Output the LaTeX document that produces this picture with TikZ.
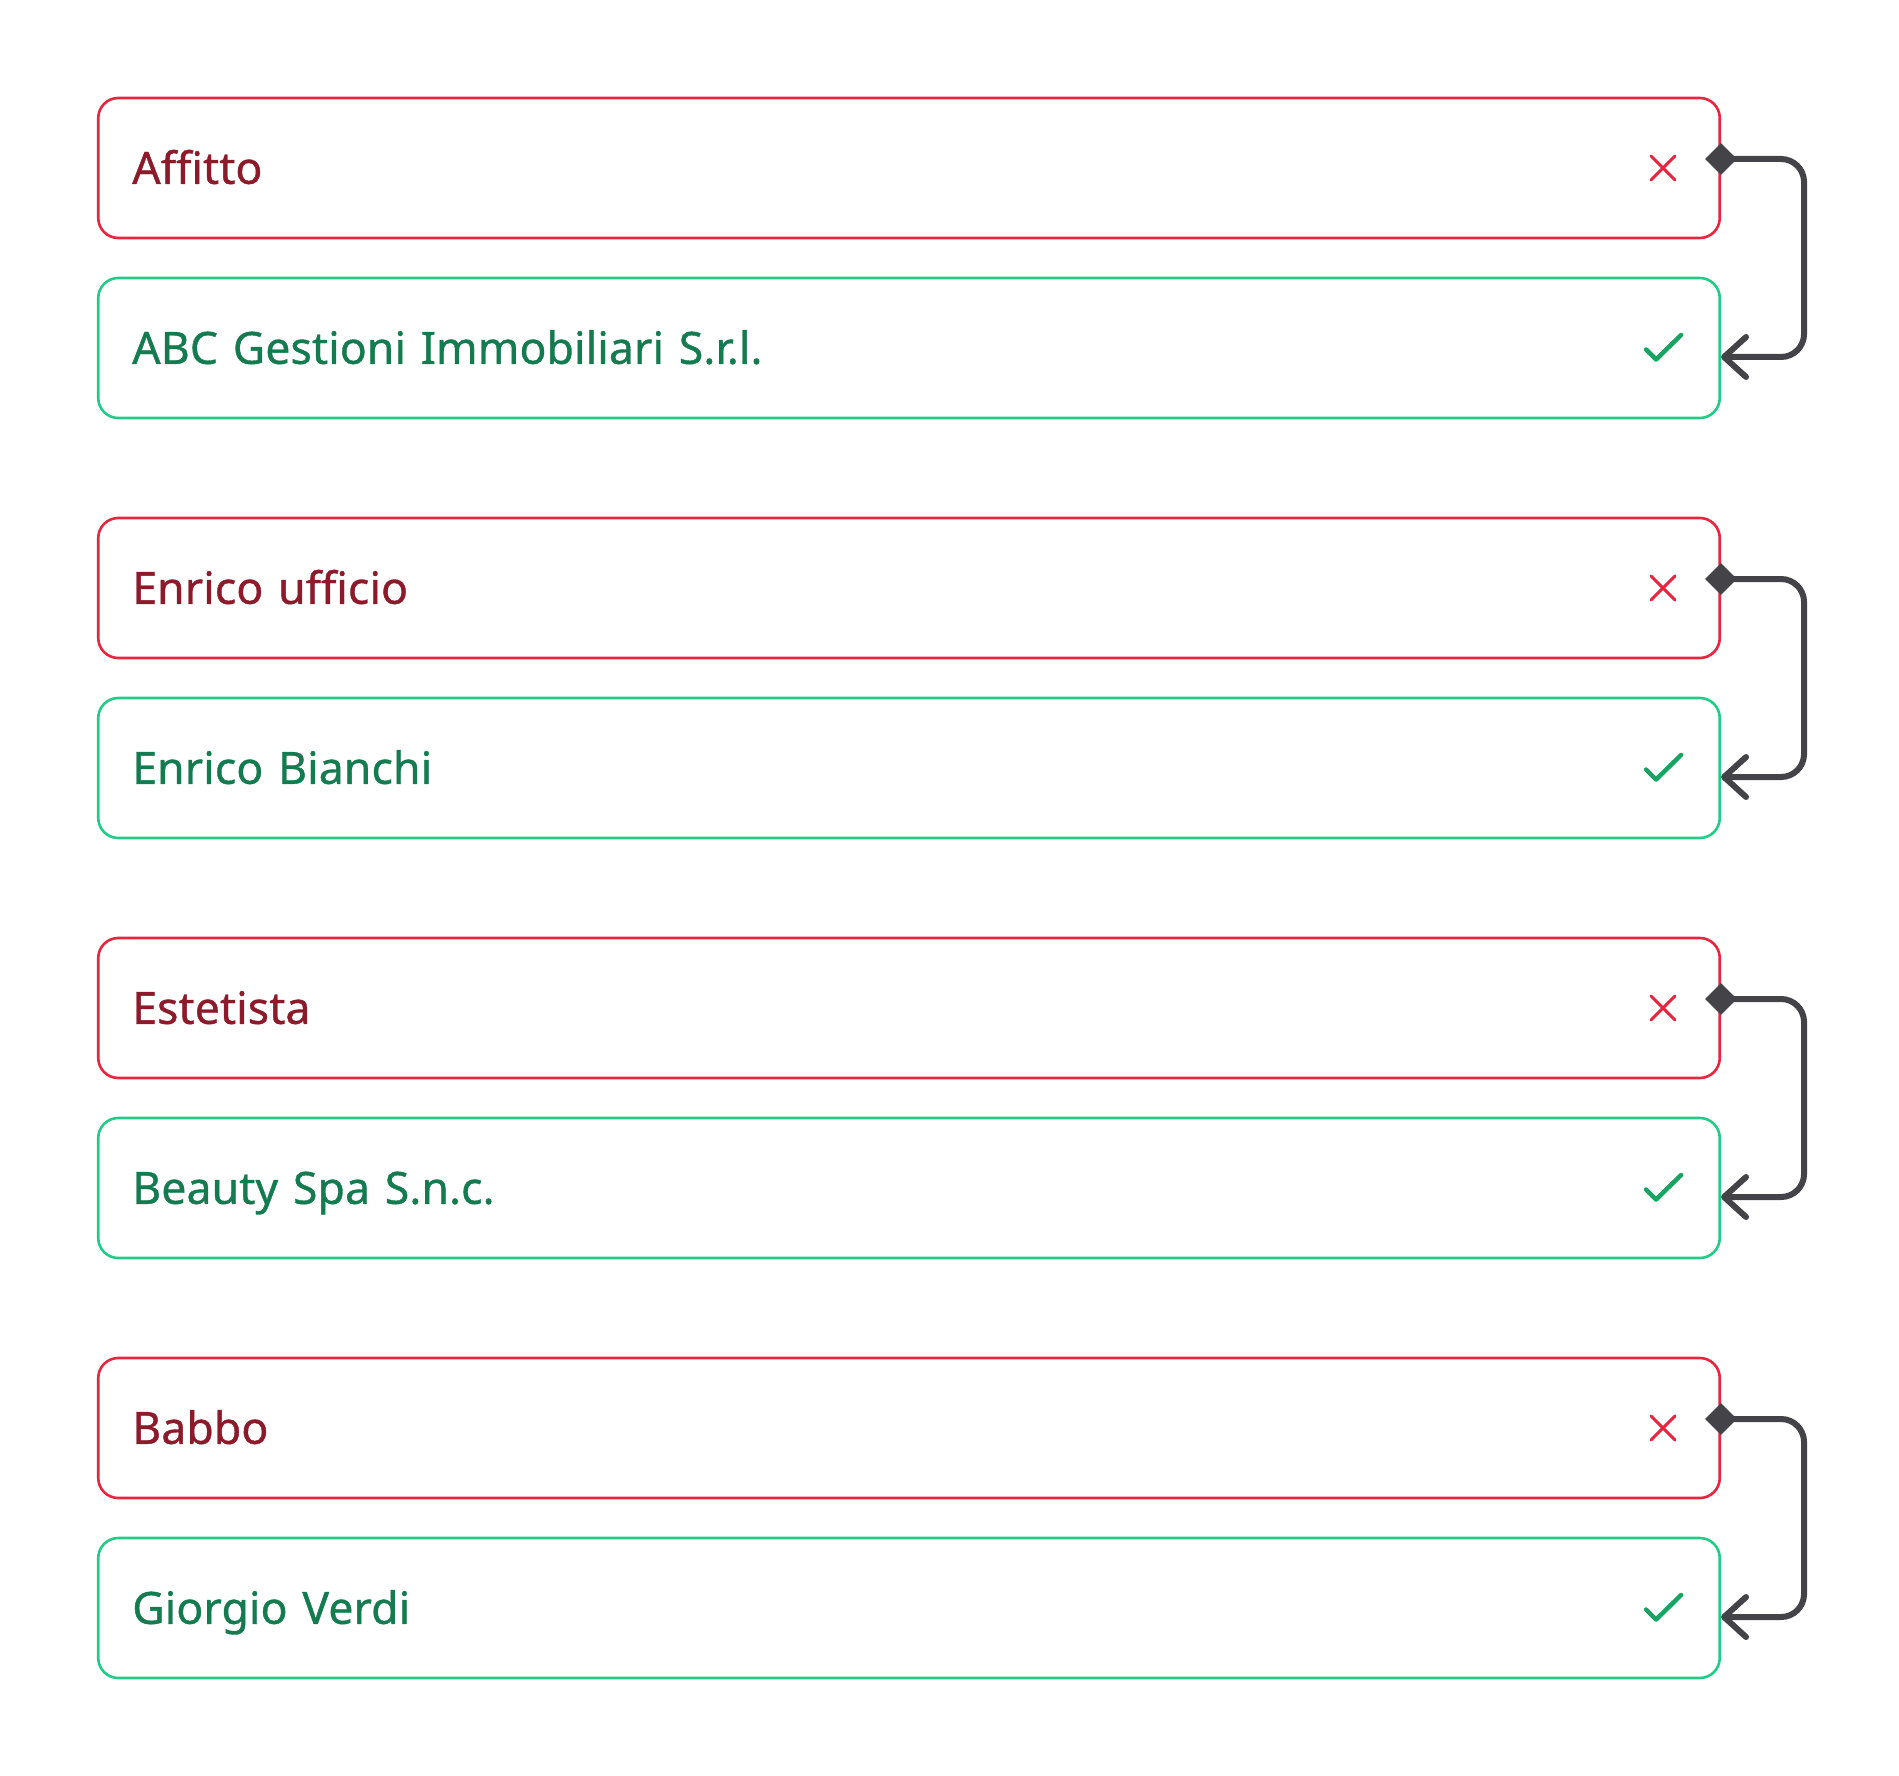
\documentclass[tikz,border=0pt]{standalone}
\usepackage{fontspec}
\setmainfont{Noto Sans}[FakeBold=0.8,LetterSpace=0.3]
\usetikzlibrary{arrows.meta,shapes.geometric}
\definecolor{redborder}{HTML}{E8253F}
\definecolor{redtext}{HTML}{8C1A2A}
\definecolor{greenborder}{HTML}{22CC88}
\definecolor{greentext}{HTML}{137B4F}
\definecolor{checkgreen}{HTML}{19A463}
\definecolor{conncol}{HTML}{444448}
\begin{document}
\begin{tikzpicture}[x=1pt,y=-1pt,
  box/.style={draw, rounded corners=20pt, line width=2.6pt, minimum width=1621.5pt, minimum height=140pt,
    inner xsep=34pt, inner ysep=0pt, text width=1553.5pt, align=left, text height=31.7pt, text depth=0pt,
    font=\fontsize{44.5}{44.5}\selectfont, anchor=center},
  redbox/.style={box, draw=redborder, text=redtext},
  greenbox/.style={box, draw=greenborder, text=greentext},
  crossline/.style={draw=redborder, line width=3pt, line cap=round},
  checkline/.style={draw=checkgreen, line width=4.5pt, line cap=round, line join=round},
  conn/.style={draw=conncol, line width=6pt, rounded corners=23pt, -{Straight Barb[length=22pt,width=40pt,round]}},
  diam/.style={diamond, fill=conncol, inner sep=0pt, minimum width=32pt, minimum height=32pt}]
\useasboundingbox (0,0) rectangle (1899,1776);
\foreach \i/\top/\bot in {1/Affitto/{ABC Gestioni Immobiliari S.r.l.}, 2/{Enrico ufficio}/{Enrico Bianchi}, 3/Estetista/{Beauty Spa S.n.c.}, 4/Babbo/{Giorgio Verdi}} {
  \pgfmathsetmacro\yy{168+420*(\i-1)}
  \node[redbox] (r\i) at (909,\yy) {\top};
  \node[greenbox] (g\i) at (909,\yy+180) {\bot};
  \draw[crossline] ([xshift=-70pt,yshift=12pt]r\i.east) -- ([xshift=-46pt,yshift=-12pt]r\i.east);
  \draw[crossline] ([xshift=-46pt,yshift=12pt]r\i.east) -- ([xshift=-70pt,yshift=-12pt]r\i.east);
  \draw[checkline] ([xshift=-75pt,yshift=-1.5pt]g\i.east) -- ([xshift=-65pt,yshift=-11.5pt]g\i.east) -- ([xshift=-40pt,yshift=13pt]g\i.east);
  \coordinate (s\i) at ([yshift=9pt]r\i.east);
  \coordinate (e\i) at ([yshift=-9pt]g\i.east);
  \draw[conn] (s\i) -- ++(83,0) |- (e\i);
  \node[diam] (d\i) at (s\i) {};
}
\end{tikzpicture}
\end{document}
